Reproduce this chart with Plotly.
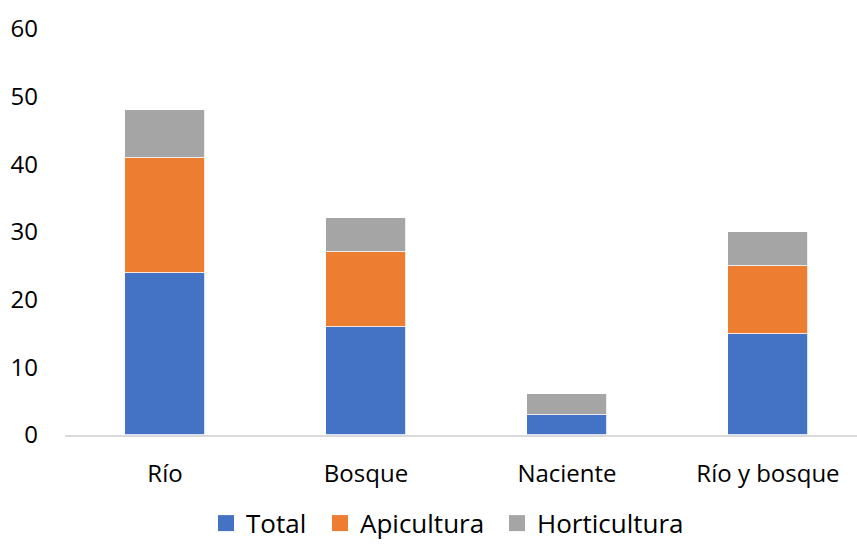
import plotly.graph_objects as go

categories = ["Río", "Bosque", "Naciente", "Río y bosque"]
total = [24, 16, 3, 15]
apicultura = [17, 11, 0, 10]
horticultura = [7, 5, 3, 5]
series_names = ["Total", "Apicultura", "Horticultura"]
colors = ["#4472C4", "#ED7D31", "#A5A5A5"]
y_ticks = [0, 10, 20, 30, 40, 50, 60]

W, H = 857, 545
legend_ids = ["legend", "legend2", "legend3"]
legend_px = [206, 320, 497]

fig = go.Figure()
for name, vals, c, lid in zip(series_names, [total, apicultura, horticultura], colors, legend_ids):
    fig.add_trace(go.Bar(
        x=list(range(len(categories))), y=vals, name=name,
        marker=dict(color=c, line=dict(color="white", width=0.8)),
        width=0.40, showlegend=False, legendgroup=name,
    ))
    fig.add_trace(go.Scatter(
        x=[None], y=[None], mode="markers", name=name, legendgroup=name,
        marker=dict(symbol="square", size=16, color=c), legend=lid,
    ))

font_family = "Open Sans, Liberation Sans, sans-serif"
legend_common = dict(orientation="h", xanchor="left", xref="container",
                     y=0.04, yanchor="middle", yref="container",
                     font=dict(size=26), itemwidth=30, itemsizing="trace",
                     bgcolor="rgba(0,0,0,0)")
layout_legends = {}
for lid, px in zip(legend_ids, legend_px):
    layout_legends[lid] = dict(legend_common, x=px / W)

fig.update_layout(
    barmode="stack",
    width=W, height=H,
    margin=dict(l=65, r=0, t=29, b=110, autoexpand=False),
    plot_bgcolor="white", paper_bgcolor="white",
    font=dict(family=font_family, size=24, color="#000000"),
    showlegend=True,
    bargap=0,
    **layout_legends,
)
fig.update_xaxes(
    tickmode="array", tickvals=list(range(len(categories))), ticktext=categories,
    range=[-0.4975, 3.443], showline=True, linecolor="#D9D9D9", linewidth=2,
    showgrid=False, zeroline=False, ticks="", ticklabelstandoff=16,
)
fig.update_yaxes(
    range=[0, 60], tickvals=y_ticks, showgrid=False, zeroline=False,
    showline=False, ticks="", ticklabelstandoff=26,
)
fig.write_html("out.html")
